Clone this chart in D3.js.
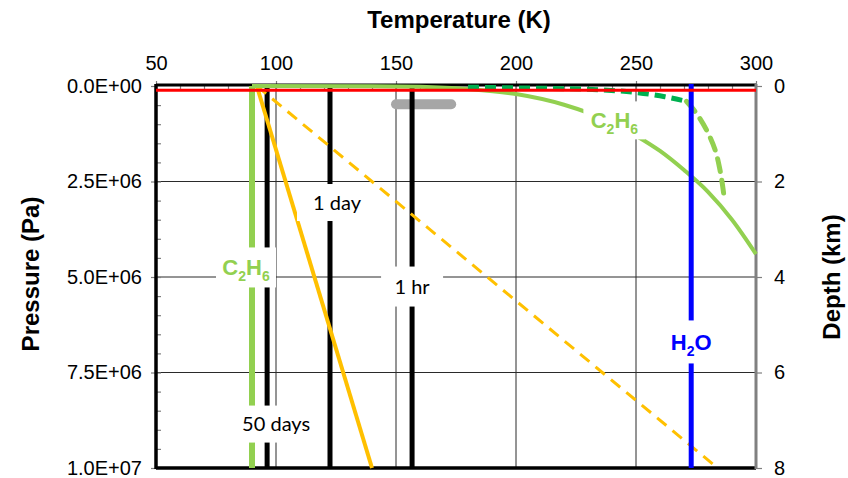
<!DOCTYPE html>
<html>
<head>
<meta charset="utf-8">
<script src="https://cdn.jsdelivr.net/npm/d3@7"></script>
<style>
  body { margin: 0; background: #fff; }
  svg { display: block; }
</style>
</head>
<body>
<svg id="chart"></svg>
<script>
// data
var tempTicks = [50, 100, 150, 200, 250, 300];
var pressTicks = [0, 2.5e6, 5e6, 7.5e6, 1e7];
var depthTicks = [0, 2, 4, 6, 8];

// ethane vapour curve (solid light green)
var vapT = [90, 140, 160, 180, 200, 220, 240, 250, 260, 270, 280, 290, 300];
var vapP = [0, 0.004e6, 0.02e6, 0.08e6, 0.21e6, 0.49e6, 0.96e6, 1.3e6, 1.7e6, 2.2e6, 2.77e6, 3.5e6, 4.4e6];

// dashed curves
var darkDashT = [180, 200, 220, 235, 250, 262, 271];
var darkDashP = [0.03e6, 0.05e6, 0.07e6, 0.1e6, 0.17e6, 0.28e6, 0.4e6];
var lightDashT = [271, 273.5, 276.5, 280, 283, 285, 286.5];
var lightDashP = [0.4e6, 0.58e6, 0.84e6, 1.23e6, 1.68e6, 2.2e6, 2.8e6];

// ethane melting line, yellow lines
var meltT = [90, 90];
var meltP = [0, 1e7];
var yellowSolidT = [92, 140];
var yellowDashT = [92, 284];
var yellowP = [0, 1e7];

// vertical time lines
var timeLabels = ["50 days", "1 day", "1 hr"];
var timeT = [96.3, 122.5, 156.7];

var waterT = 273;
var surfaceP = 1.1e5;
var barT = [150, 173];
var barP = 0.48e6;

var svg = d3.select("#chart").attr("width", 848).attr("height", 478);

var x = d3.scaleLinear().domain([50, 300]).range([156, 756]);
var y = d3.scaleLinear().domain([0, 1e7]).range([86, 468]);
var yDepth = d3.scaleLinear().domain([0, 8]).range([86, 468]);

var sans = "'Liberation Sans', Arial, sans-serif";

function sci(d) {
    var parts = d.toExponential(1).split("e");
    var e = parts[1];
    return parts[0] + "E" + e[0] + e.slice(1).padStart(2, "0");
}

// gridlines
var grid = svg.append("g");
grid.selectAll("line.gx")
    .data(tempTicks.slice(1, -1))
    .enter().append("line")
    .attr("x1", d => x(d)).attr("x2", d => x(d))
    .attr("y1", y(0)).attr("y2", y(1e7))
    .attr("stroke", "#2a2a2a").attr("stroke-width", 1);
grid.selectAll("line.gy")
    .data(pressTicks.slice(1, -1))
    .enter().append("line")
    .attr("x1", x(50)).attr("x2", x(300))
    .attr("y1", d => y(d)).attr("y2", d => y(d))
    .attr("stroke", "#2a2a2a").attr("stroke-width", 1);

// axes
var topAxis = svg.append("g")
    .attr("transform", `translate(0, ${y(0)})`)
    .call(d3.axisTop(x).tickValues(tempTicks).tickSize(5).tickPadding(11));
var topMinor = svg.append("g")
    .attr("transform", `translate(0, ${y(0)})`)
    .call(d3.axisBottom(x).tickValues(d3.range(60, 300, 10)).tickSize(5).tickFormat(""));

var leftAxis = svg.append("g")
    .attr("transform", `translate(${x(50)}, 0)`)
    .call(d3.axisLeft(y).tickValues(pressTicks).tickSize(5).tickPadding(9).tickFormat(sci));
var leftMinor = svg.append("g")
    .attr("transform", `translate(${x(50)}, 0)`)
    .call(d3.axisRight(y).tickValues(d3.range(0.5e6, 1e7, 0.5e6)).tickSize(5).tickFormat(""));

var rightAxis = svg.append("g")
    .attr("transform", `translate(${x(300)}, 0)`)
    .call(d3.axisRight(yDepth).tickValues(depthTicks).tickSize(6).tickPadding(12));

[topAxis, topMinor, leftAxis, leftMinor, rightAxis].forEach(function(g) {
    g.select(".domain").remove();
    g.selectAll("line").attr("stroke", "#7f7f7f").attr("stroke-width", 1.2);
    g.selectAll("text").attr("font-family", sans).attr("font-size", "20px").attr("fill", "#000");
});

// grey bar
svg.append("line")
    .attr("x1", x(barT[0])).attr("x2", x(barT[1]))
    .attr("y1", y(barP)).attr("y2", y(barP))
    .attr("stroke", "#a6a6a6").attr("stroke-width", 10).attr("stroke-linecap", "round");

// frame
svg.append("line").attr("x1", x(50)).attr("x2", x(300)).attr("y1", y(0) - 1).attr("y2", y(0) - 1)
    .attr("stroke", "#000").attr("stroke-width", 3);
svg.append("line").attr("x1", x(50)).attr("x2", x(300)).attr("y1", y(1e7)).attr("y2", y(1e7))
    .attr("stroke", "#000").attr("stroke-width", 3.5);
svg.append("line").attr("x1", x(50)).attr("x2", x(50)).attr("y1", y(0) - 2).attr("y2", y(1e7) + 1)
    .attr("stroke", "#000").attr("stroke-width", 3.5);
svg.append("line").attr("x1", x(300)).attr("x2", x(300)).attr("y1", y(0) - 2).attr("y2", y(1e7) + 1)
    .attr("stroke", "#808080").attr("stroke-width", 3);

var line = d3.line().x(d => x(d[0])).y(d => y(d[1]));
var smooth = d3.line().x(d => x(d[0])).y(d => y(d[1])).curve(d3.curveMonotoneY);

function pairs(ts, ps) { return ts.map((t, i) => [t, ps[i]]); }

// vertical time lines
svg.selectAll("line.time")
    .data(timeT)
    .enter().append("line")
    .attr("x1", d => x(d)).attr("x2", d => x(d))
    .attr("y1", y(0) - 2).attr("y2", y(1e7))
    .attr("stroke", "#000").attr("stroke-width", 5);

// yellow lines
svg.append("path").datum(pairs(yellowDashT, yellowP)).attr("d", line)
    .attr("fill", "none").attr("stroke", "#ffc000").attr("stroke-width", 3)
    .attr("stroke-dasharray", "12,8");
svg.append("path").datum(pairs(yellowSolidT, yellowP)).attr("d", line)
    .attr("fill", "none").attr("stroke", "#ffc000").attr("stroke-width", 4);

// ethane melting line
svg.append("path").datum(pairs(meltT, meltP)).attr("d", line)
    .attr("fill", "none").attr("stroke", "#92d050").attr("stroke-width", 6);

// ethane vapour curve
svg.append("path").datum(pairs(vapT, vapP))
    .attr("d", d3.line().x(d => x(d[0])).y(d => y(d[1])).curve(d3.curveMonotoneX))
    .attr("fill", "none").attr("stroke", "#92d050").attr("stroke-width", 4);

// dashed green curves
svg.append("path").datum(pairs(darkDashT, darkDashP))
    .attr("d", d3.line().x(d => x(d[0])).y(d => y(d[1])).curve(d3.curveMonotoneX))
    .attr("fill", "none").attr("stroke", "#00b050").attr("stroke-width", 5)
    .attr("stroke-dasharray", "11,6");
svg.append("path").datum(pairs(lightDashT, lightDashP)).attr("d", smooth)
    .attr("fill", "none").attr("stroke", "#92d050").attr("stroke-width", 5)
    .attr("stroke-dasharray", "13,9").attr("stroke-linecap", "round");

// water line
svg.append("line").attr("x1", x(waterT)).attr("x2", x(waterT))
    .attr("y1", y(0) - 2).attr("y2", y(1e7))
    .attr("stroke", "#0000ff").attr("stroke-width", 5);

// surface line
svg.append("line").attr("x1", x(50)).attr("x2", x(300))
    .attr("y1", y(surfaceP)).attr("y2", y(surfaceP))
    .attr("stroke", "#ff0000").attr("stroke-width", 3);

// labels with white boxes
var labels = [
    {text: "50 days", t: 96.3, p: 8.85e6, w: 80, h: 37, size: 20, color: "#000", kind: "plain", dx: 9},
    {text: "1 day", t: 122.5, p: 3.05e6, w: 66, h: 37, size: 20, color: "#000", kind: "plain", dx: 7},
    {text: "1 hr", t: 156.7, p: 5.25e6, w: 62, h: 40, size: 20, color: "#000", kind: "plain"},
    {text: ["C", "2", "H", "6"], t: 87.5, p: 4.75e6, w: 60, h: 40, size: 22, color: "#92d050", kind: "chem"},
    {text: ["C", "2", "H", "6"], t: 241, p: 0.9e6, w: 62, h: 38, size: 22, color: "#92d050", kind: "chem"},
    {text: ["H", "2", "O"], t: 273, p: 6.7e6, w: 50, h: 43, size: 22, color: "#0000ff", kind: "chem"}
];

labels.forEach(function(l) {
    var cx = x(l.t), cy = y(l.p);
    svg.append("rect")
        .attr("x", cx - l.w / 2).attr("y", cy - l.h / 2)
        .attr("width", l.w).attr("height", l.h)
        .attr("fill", "#fff");
    var txt = svg.append("text")
        .attr("x", cx + (l.dx || 0)).attr("y", cy + l.size * 0.35)
        .attr("text-anchor", "middle")
        .attr("fill", l.color)
        .attr("font-size", l.size + "px");
    if (l.kind === "plain") {
        txt.attr("font-family", "Lato, 'Open Sans', sans-serif").text(l.text);
    } else {
        txt.attr("font-family", sans).attr("font-weight", "bold");
        l.text.forEach(function(s, i) {
            var sub = /\d/.test(s);
            txt.append("tspan")
                .attr("font-size", sub ? "14px" : l.size + "px")
                .attr("dy", sub ? 6 : (i > 0 ? -6 : 0))
                .text(s);
        });
    }
});

// axis titles
svg.append("text")
    .attr("x", 459).attr("y", 28)
    .attr("text-anchor", "middle")
    .attr("font-family", sans).attr("font-weight", "bold").attr("font-size", "24px")
    .text("Temperature (K)");

svg.append("text")
    .attr("transform", "translate(39, 274) rotate(-90)")
    .attr("text-anchor", "middle")
    .attr("font-family", sans).attr("font-weight", "bold").attr("font-size", "24px")
    .text("Pressure (Pa)");

svg.append("text")
    .attr("transform", "translate(840, 277) rotate(-90)")
    .attr("text-anchor", "middle")
    .attr("font-family", sans).attr("font-weight", "bold").attr("font-size", "24px")
    .text("Depth (km)");
</script>
</body>
</html>
